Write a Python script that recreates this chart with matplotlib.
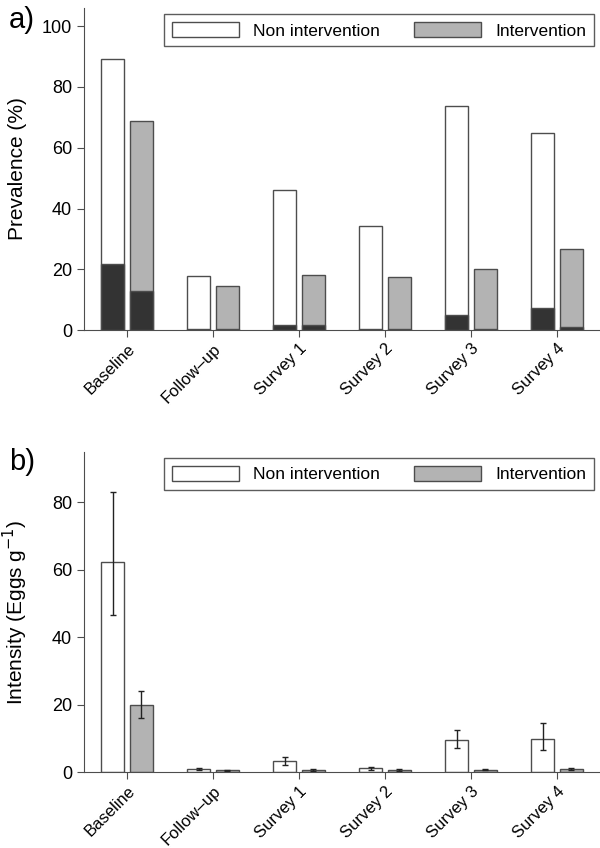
import numpy as np
import matplotlib
matplotlib.use("Agg")
import matplotlib.pyplot as plt
from matplotlib.patches import Patch

plt.rcParams['font.family'] = ['Liberation Sans', 'DejaVu Sans']

surveys = ['Baseline', 'Follow\u2013up', 'Survey 1', 'Survey 2', 'Survey 3', 'Survey 4']

# a) prevalence (%) - total and dark (heavy) part
prev_non = [89.1, 17.8, 46.2, 34.1, 73.9, 64.9]
prev_int = [68.7, 14.5, 18.0, 17.4, 20.2, 26.7]
prev_non_dark = [21.8, 0.5, 1.7, 0.5, 4.8, 7.3]
prev_int_dark = [13.0, 0.5, 1.5, 0.5, 0.3, 0.9]

# b) intensity (eggs/g) with lower / upper limits
int_non = [62.2, 1.0, 3.3, 1.2, 9.5, 10.0]
int_non_lo = [46.5, 0.7, 2.2, 0.8, 7.1, 6.6]
int_non_hi = [83.2, 1.3, 4.5, 1.6, 12.6, 14.6]
int_int = [19.8, 0.6, 0.7, 0.7, 0.8, 1.1]
int_int_lo = [16.2, 0.4, 0.5, 0.5, 0.6, 0.8]
int_int_hi = [24.2, 0.8, 0.9, 0.9, 1.0, 1.4]

edge = '#4d4d4d'
grey = '#b3b3b3'
dark = '#333333'
w = 0.27
off = 0.165

fig = plt.figure(figsize=(6, 8.48), dpi=100)
ax1 = fig.add_axes([0.14, 0.6108, 0.86, 0.3798])
ax2 = fig.add_axes([0.14, 0.0893, 0.86, 0.378])

x = np.arange(len(surveys))

ax1.bar(x - off, prev_non, w, color='white', edgecolor=edge, linewidth=1)
ax1.bar(x + off, prev_int, w, color=grey, edgecolor=edge, linewidth=1)
ax1.bar(x - off, prev_non_dark, w, color=dark, edgecolor=edge, linewidth=1)
ax1.bar(x + off, prev_int_dark, w, color=dark, edgecolor=edge, linewidth=1)
ax1.set_ylim(0, 106)
ax1.set_yticks([0, 20, 40, 60, 80, 100])
ax1.set_ylabel('Prevalence (%)', fontsize=15)
ax1.yaxis.set_label_coords(-0.11, 0.5)

non = np.array(int_non)
itv = np.array(int_int)
err_non = [non - np.array(int_non_lo), np.array(int_non_hi) - non]
err_int = [itv - np.array(int_int_lo), np.array(int_int_hi) - itv]
ekw = dict(ecolor='#222222', elinewidth=1, capsize=2.5, capthick=1)
ax2.bar(x - off, non, w, color='white', edgecolor=edge, linewidth=1, yerr=err_non, error_kw=ekw)
ax2.bar(x + off, itv, w, color=grey, edgecolor=edge, linewidth=1, yerr=err_int, error_kw=ekw)
ax2.set_ylim(0, 95)
ax2.set_yticks([0, 20, 40, 60, 80])
ax2.set_ylabel('Intensity (Eggs g$^{-1}$)', fontsize=15)
ax2.yaxis.set_label_coords(-0.104, 0.5)

handles = [Patch(facecolor='white', edgecolor=edge, label='Non intervention'),
           Patch(facecolor=grey, edgecolor=edge, label='Intervention')]

for ax, lab, ly in [(ax1, 'a)', 20), (ax2, 'b)', 462)]:
    ax.set_xlim(-0.5, 5.5)
    ax.set_xticks(x)
    ax.set_xticklabels(surveys, rotation=45, ha='right', rotation_mode='anchor')
    ax.tick_params(axis='both', direction='out', length=5, color=edge, labelsize=13)
    ax.tick_params(axis='x', labelsize=12, pad=3)
    ax.spines['top'].set_visible(False)
    ax.spines['right'].set_visible(False)
    for s in ['left', 'bottom']:
        ax.spines[s].set_color(edge)
    leg = ax.legend(handles=handles, ncol=2, loc='upper right', bbox_to_anchor=(1.0, 1.0),
                    fontsize=12.5, frameon=True, fancybox=False, edgecolor='#333333',
                    handlelength=3.85, handleheight=1.0, handletextpad=0.8,
                    columnspacing=2.0, borderpad=0.45, borderaxespad=0.35)
    leg.get_frame().set_linewidth(1)
    fig.text(9 / 600, 1 - ly / 848, lab, fontsize=21, va='center', ha='left')

fig.savefig('out.png', dpi=100)
